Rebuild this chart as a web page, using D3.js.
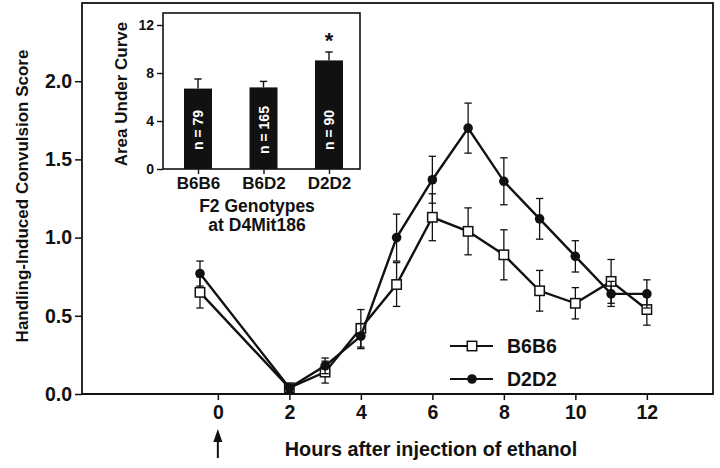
<!DOCTYPE html>
<html><head><meta charset="utf-8">
<script src="https://cdn.jsdelivr.net/npm/d3@7"></script>
<style>
body{margin:0;background:#fff;}
svg text{font-family:"Liberation Sans",Arial,Helvetica,sans-serif;font-weight:bold;fill:#111;}
</style></head><body>
<svg id="c" width="720" height="468"></svg>
<script>
// ---- data ----
const hours = [-0.5, 2, 3, 4, 5, 6, 7, 8, 9, 10, 11, 12];
const b6b6 = [0.65, 0.04, 0.14, 0.42, 0.70, 1.13, 1.04, 0.89, 0.66, 0.58, 0.72, 0.54];
const b6b6Err = [0.10, 0.02, 0.07, 0.12, 0.14, 0.15, 0.15, 0.16, 0.13, 0.10, 0.14, 0.10];
const d2d2 = [0.77, 0.04, 0.18, 0.37, 1.00, 1.37, 1.70, 1.36, 1.12, 0.88, 0.64, 0.64];
const d2d2Err = [0.08, 0.02, 0.05, 0.08, 0.15, 0.15, 0.16, 0.15, 0.13, 0.10, 0.08, 0.09];
const xTicks = [0, 2, 4, 6, 8, 10, 12];
const yTicks = [0.0, 0.5, 1.0, 1.5, 2.0];
const yTickLabels = ["0.0", "0.5", "1.0", "1.5", "2.0"];

const genotypes = ["B6B6", "B6D2", "D2D2"];
const auc = [6.7, 6.8, 9.05];
const aucErr = [0.8, 0.5, 0.7];
const nLabels = ["n = 79", "n = 165", "n = 90"];
const insetTicks = [0, 4, 8, 12];

const svg = d3.select("#c");
const ink = "#111";
const FF = "Liberation Sans, Arial, sans-serif";

// ---- main scales ----
const x = d3.scaleLinear().domain([-3.8, 13.85]).range([82, 713]);
const y = d3.scaleLinear().domain([0, 2.5]).range([394, 3]);

// frame
svg.append("rect").attr("x", 82).attr("y", 3).attr("width", 713 - 82).attr("height", 394 - 3)
  .attr("fill", "none").attr("stroke", ink).attr("stroke-width", 1.8);

// axes
const yAxis = d3.axisLeft(y).tickValues(yTicks).tickFormat((d, i) => yTickLabels[i]).tickSize(7).tickPadding(3);
const gy = svg.append("g").attr("transform", "translate(82,0)").call(yAxis);
gy.select(".domain").remove();
gy.selectAll("line").attr("stroke", ink).attr("stroke-width", 1.5);
gy.selectAll("text").attr("font-size", 19.5).style("font-family", FF).style("font-weight", "bold").attr("fill", ink);

const xAxis = d3.axisBottom(x).tickValues(xTicks).tickSize(6).tickPadding(5);
const gx = svg.append("g").attr("transform", "translate(0,394)").call(xAxis);
gx.select(".domain").remove();
gx.selectAll("line").attr("stroke", ink).attr("stroke-width", 1.5);
gx.selectAll("text").attr("font-size", 19.5).style("font-family", FF).style("font-weight", "bold").attr("fill", ink);

// axis titles
svg.append("text").attr("x", 431).attr("y", 456).attr("text-anchor", "middle").attr("font-size", 19.8)
  .text("Hours after injection of ethanol");
svg.append("text").attr("transform", "translate(28,196) rotate(-90)").attr("text-anchor", "middle").attr("font-size", 17)
  .text("Handling-Induced Convulsion Score");

// arrow at injection time
svg.append("line").attr("x1", x(0)).attr("x2", x(0)).attr("y1", 440).attr("y2", 458)
  .attr("stroke", ink).attr("stroke-width", 2);
svg.append("path").attr("d", `M${x(0) - 4.5},442 L${x(0)},429 L${x(0) + 4.5},442 Z`).attr("fill", ink);

// series
function drawSeries(vals, errs) {
  const pts = hours.map((h, i) => ({ h, v: vals[i], e: errs[i] }));
  const g = svg.append("g");
  pts.forEach(p => {
    g.append("line").attr("x1", x(p.h)).attr("x2", x(p.h)).attr("y1", y(p.v - p.e)).attr("y2", y(p.v + p.e))
      .attr("stroke", ink).attr("stroke-width", 1.3);
    [p.v - p.e, p.v + p.e].forEach(v => {
      g.append("line").attr("x1", x(p.h) - 3.7).attr("x2", x(p.h) + 3.7).attr("y1", y(v)).attr("y2", y(v))
        .attr("stroke", ink).attr("stroke-width", 1.3);
    });
  });
  g.append("path").datum(pts)
    .attr("d", d3.line().x(p => x(p.h)).y(p => y(p.v)))
    .attr("fill", "none").attr("stroke", ink).attr("stroke-width", 2.4);
  return { g, pts };
}
const s1 = drawSeries(b6b6, b6b6Err);
const s2 = drawSeries(d2d2, d2d2Err);
s1.pts.forEach(p => {
  s1.g.append("rect").attr("x", x(p.h) - 4.7).attr("y", y(p.v) - 4.7).attr("width", 9.4).attr("height", 9.4)
    .attr("fill", "#fff").attr("stroke", ink).attr("stroke-width", 1.5);
});
s2.pts.forEach(p => {
  s2.g.append("circle").attr("cx", x(p.h)).attr("cy", y(p.v)).attr("r", 4.8).attr("fill", ink);
});

// legend
const leg = [{ name: "B6B6", ly: 346, kind: "square" }, { name: "D2D2", ly: 379, kind: "circle" }];
leg.forEach(l => {
  svg.append("line").attr("x1", 450).attr("x2", 493).attr("y1", l.ly).attr("y2", l.ly).attr("stroke", ink).attr("stroke-width", 1.8);
  if (l.kind === "square") {
    svg.append("rect").attr("x", 472 - 4.7).attr("y", l.ly - 4.7).attr("width", 9.4).attr("height", 9.4)
      .attr("fill", "#fff").attr("stroke", ink).attr("stroke-width", 1.5);
  } else {
    svg.append("circle").attr("cx", 472).attr("cy", l.ly).attr("r", 4.8).attr("fill", ink);
  }
  svg.append("text").attr("x", 507).attr("y", l.ly + 7).attr("font-size", 19.5).text(l.name);
});

// ---- inset ----
const ix = d3.scalePoint().domain(genotypes).range([198, 329]);
const iy = d3.scaleLinear().domain([0, 13]).range([169, 13]);
svg.append("rect").attr("x", 163).attr("y", 13).attr("width", 360 - 163).attr("height", 169 - 13)
  .attr("fill", "#fff").attr("stroke", ink).attr("stroke-width", 1.6);

const iyAxis = d3.axisLeft(iy).tickValues(insetTicks).tickSize(6).tickPadding(3);
const giy = svg.append("g").attr("transform", "translate(163,0)").call(iyAxis);
giy.select(".domain").remove();
giy.selectAll("line").attr("stroke", ink).attr("stroke-width", 1.4);
giy.selectAll("text").attr("font-size", 14).style("font-family", FF).style("font-weight", "bold").attr("fill", ink);

const ixAxis = d3.axisBottom(ix).tickSize(5).tickPadding(3);
const gix = svg.append("g").attr("transform", "translate(0,169)").call(ixAxis);
gix.select(".domain").remove();
gix.selectAll("line").attr("stroke", ink).attr("stroke-width", 1.4);
gix.selectAll("text").attr("font-size", 17).style("font-family", FF).style("font-weight", "bold").attr("fill", ink);

const bw = 28;
genotypes.forEach((gname, i) => {
  const cx = ix(gname);
  svg.append("line").attr("x1", cx).attr("x2", cx).attr("y1", iy(auc[i])).attr("y2", iy(auc[i] + aucErr[i]))
    .attr("stroke", ink).attr("stroke-width", 1.4);
  svg.append("line").attr("x1", cx - 3.7).attr("x2", cx + 3.7).attr("y1", iy(auc[i] + aucErr[i])).attr("y2", iy(auc[i] + aucErr[i]))
    .attr("stroke", ink).attr("stroke-width", 1.4);
  svg.append("rect").attr("x", cx - bw / 2).attr("y", iy(auc[i])).attr("width", bw).attr("height", iy(0) - iy(auc[i]))
    .attr("fill", ink);
  svg.append("text").attr("transform", `translate(${cx + 5},130) rotate(-90)`).attr("text-anchor", "middle")
    .attr("font-size", 14).style("fill", "#fff").text(nLabels[i]);
});
svg.append("text").attr("x", ix("D2D2")).attr("y", 48).attr("text-anchor", "middle").attr("font-size", 22).text("*");

svg.append("text").attr("transform", "translate(127,94) rotate(-90)").attr("text-anchor", "middle").attr("font-size", 17)
  .text("Area Under Curve");
svg.append("text").attr("x", 257).attr("y", 212).attr("text-anchor", "middle").attr("font-size", 17.5).text("F2 Genotypes");
svg.append("text").attr("x", 257).attr("y", 231).attr("text-anchor", "middle").attr("font-size", 17.5).text("at D4Mit186");

svg.append("line").attr("x1", 82).attr("x2", 713).attr("y1", 394).attr("y2", 394).attr("stroke", ink).attr("stroke-width", 2);
</script>
</body></html>
